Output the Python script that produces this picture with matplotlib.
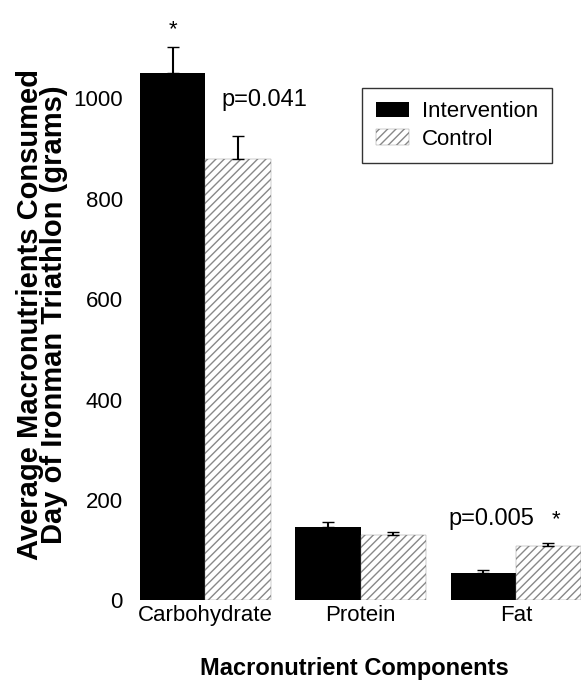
import numpy as np
import matplotlib.pyplot as plt

plt.rcParams['font.family'] = ['Liberation Sans', 'DejaVu Sans']
plt.rcParams['hatch.color'] = '#555555'
plt.rcParams['hatch.linewidth'] = 1.0

categories = ['Carbohydrate', 'Protein', 'Fat']
intervention = [1050, 145, 55]
intervention_err = [52, 10, 6]
control = [880, 130, 108]
control_err = [45, 6, 6]

fig = plt.figure(figsize=(5.81, 6.86), dpi=100)
ax = fig.add_axes([0.22, 0.125, 0.78, 0.834])

x = np.arange(len(categories))
w = 0.42
zeros = [0] * len(categories)
ax.bar(x - w / 2, intervention, w, yerr=[zeros, intervention_err], color='black',
       error_kw=dict(ecolor='black', capsize=4, lw=1.5), label='Intervention')
ax.bar(x + w / 2, control, w, yerr=[zeros, control_err], color='white', hatch='////',
       edgecolor='#888888', linewidth=0.3,
       error_kw=dict(ecolor='black', capsize=4, lw=1.5), label='Control')

ax.set_ylim(0, 1140)
ax.set_xlim(-0.5, 2.42)
ax.set_yticks([0, 200, 400, 600, 800, 1000])
ax.set_xticks(x)
ax.set_xticklabels(categories)
ax.tick_params(axis='both', labelsize=16, length=0)
for s in ['top', 'right', 'bottom', 'left']:
    ax.spines[s].set_visible(False)

ax.text(x[0] - w / 2, 1125, '*', ha='center', fontsize=16)
ax.text(x[0] + w / 2 + 0.17, 985, 'p=0.041', ha='center', fontsize=17)
ax.text(x[2] - w / 2 + 0.05, 150, 'p=0.005', ha='center', fontsize=17)
ax.text(x[2] + w / 2 + 0.05, 150, '*', ha='center', fontsize=16)

ax.set_ylabel('Average Macronutrients Consumed\nDay of Ironman Triathlon (grams)',
              fontsize=21, fontweight='bold', labelpad=4, linespacing=0.8,
              fontstretch='condensed')
ax.set_xlabel('Macronutrient Components', fontsize=17, fontweight='bold', labelpad=22)

leg = ax.legend(loc='upper right', bbox_to_anchor=(0.96, 0.915), fontsize=16,
                frameon=True, fancybox=False, edgecolor='black', handlelength=1.5,
                borderpad=0.6, labelspacing=0.3, handletextpad=0.6)
leg.get_frame().set_linewidth(1.0)

fig.savefig('out.png', dpi=100)
